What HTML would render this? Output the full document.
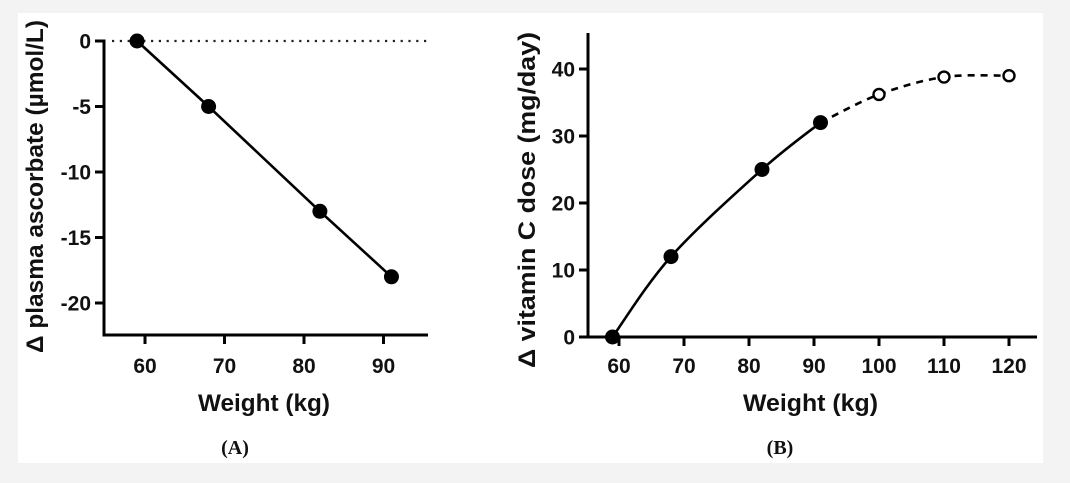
<!DOCTYPE html>
<html><head><meta charset="utf-8"><style>
html,body{margin:0;padding:0;background:#f3f3f3;}
svg{display:block;}
text{font-family:"Liberation Sans",Arial,sans-serif;font-weight:bold;fill:#111;}
.cap{font-family:"Liberation Serif",serif;}
</style></head><body>
<svg id="fig" width="1070" height="483" viewBox="0 0 1070 483">
<rect x="18" y="13" width="1025" height="450" fill="#fff"/>
<g id="ga"></g>
<g id="gb"></g>
</svg>
<script>
// Panel A data
const aWeights = [59, 68, 82, 91];
const aAscorbate = [0, -5, -13, -18];
const aXTicks = [60, 70, 80, 90];
const aYTicks = [0, -5, -10, -15, -20];
// Panel B data
const bWeightsMeasured = [59, 68, 82, 91];
const bDoseMeasured = [0, 12, 25, 32];
const bWeightsProjected = [91, 100, 110, 120];
const bDoseProjected = [32, 36.2, 38.8, 39];
const bXTicks = [60, 70, 80, 90, 100, 110, 120];
const bYTicks = [0, 10, 20, 30, 40];

const NS = "http://www.w3.org/2000/svg";
function mk(parent, tag, attrs, txt) {
  const e = document.createElementNS(NS, tag);
  for (const k in attrs) e.setAttribute(k, attrs[k]);
  if (txt !== undefined) e.textContent = txt;
  parent.appendChild(e);
  return e;
}
function smoothPath(pts) {
  let d = "M" + pts[0][0] + "," + pts[0][1];
  for (let i = 0; i < pts.length - 1; i++) {
    const p0 = pts[Math.max(0, i - 1)], p1 = pts[i], p2 = pts[i + 1], p3 = pts[Math.min(pts.length - 1, i + 2)];
    const c1 = [p1[0] + (p2[0] - p0[0]) / 6, p1[1] + (p2[1] - p0[1]) / 6];
    const c2 = [p2[0] - (p3[0] - p1[0]) / 6, p2[1] - (p3[1] - p1[1]) / 6];
    d += " C" + c1 + " " + c2 + " " + p2;
  }
  return d;
}
const TF = 21, AW = 3;

// ---------- Panel A ----------
const ga = document.getElementById("ga");
const axA = { x0: 104, x1: 428, y0: 41, yB: 335 };
const xA = v => 145 + (v - 60) * 7.95;
const yA = v => 41 - v * 13.1;
mk(ga, "line", { x1: 112, y1: yA(0), x2: axA.x1, y2: yA(0), stroke: "#222", "stroke-width": 2.2, "stroke-dasharray": "2.2,5.6",  });
const yAxA = mk(ga, "line", { x1: axA.x0, y1: yA(0) - 1.5, x2: axA.x0, y2: axA.yB + 1.5, stroke: "#000", "stroke-width": AW });


const xAxA = mk(ga, "line", { x1: axA.x0 - 1.5, y1: axA.yB, x2: axA.x1, y2: axA.yB, stroke: "#000", "stroke-width": AW });


aYTicks.forEach(t => {
  const l = mk(ga, "line", { x1: axA.x0 - 9, y1: yA(t), x2: axA.x0, y2: yA(t), stroke: "#000", "stroke-width": AW });
  
  
  const tx = mk(ga, "text", { x: axA.x0 - 13, y: yA(t) + 7.5, "text-anchor": "end", "font-size": TF }, String(t));
  
  
});
aXTicks.forEach(t => {
  const l = mk(ga, "line", { x1: xA(t), y1: axA.yB, x2: xA(t), y2: axA.yB + 9, stroke: "#000", "stroke-width": AW });
  
  
  const tx = mk(ga, "text", { x: xA(t), y: 373, "text-anchor": "middle", "font-size": TF }, String(t));
  
  
});
const lineA = mk(ga, "polyline", { points: aWeights.map((w, i) => xA(w) + "," + yA(aAscorbate[i])).join(" "), fill: "none", stroke: "#000", "stroke-width": 2.6 });


aWeights.forEach((w, i) => {
  const c = mk(ga, "circle", { cx: xA(w), cy: yA(aAscorbate[i]), r: 7.5, fill: "#000" });
  
  
});
mk(ga, "text", { x: 198, y: 411, "font-size": 24, textLength: 132, lengthAdjust: "spacingAndGlyphs",  }, "Weight (kg)");
mk(ga, "text", { x: 0, y: 0, transform: "translate(43,353) rotate(-90)", "font-size": 24, textLength: 333, lengthAdjust: "spacingAndGlyphs",  }, "Δ plasma ascorbate (µmol/L)");
mk(ga, "text", { x: 235, y: 454, "text-anchor": "middle", "font-size": 20, class: "cap",  }, "(A)");

// ---------- Panel B ----------
const gb = document.getElementById("gb");
const axB = { x0: 588, x1: 1037, yT: 33, yB: 337 };
const xB = v => 619 + (v - 60) * 6.5;
const yB = v => 337 - v * 6.7;
const yAxB = mk(gb, "line", { x1: axB.x0, y1: axB.yT, x2: axB.x0, y2: axB.yB + 1.5, stroke: "#000", "stroke-width": AW });


const xAxB = mk(gb, "line", { x1: axB.x0 - 9, y1: axB.yB, x2: axB.x1, y2: axB.yB, stroke: "#000", "stroke-width": AW });


bYTicks.forEach(t => {
  if (t !== 0) {
    const l = mk(gb, "line", { x1: axB.x0 - 9, y1: yB(t), x2: axB.x0, y2: yB(t), stroke: "#000", "stroke-width": AW });
    
    
  }
  const tx = mk(gb, "text", { x: axB.x0 - 13, y: yB(t) + 7.5, "text-anchor": "end", "font-size": TF }, String(t));
  
  
});
bXTicks.forEach(t => {
  const l = mk(gb, "line", { x1: xB(t), y1: axB.yB, x2: xB(t), y2: axB.yB + 9, stroke: "#000", "stroke-width": AW });
  
  
  const tx = mk(gb, "text", { x: xB(t), y: 373, "text-anchor": "middle", "font-size": TF }, String(t));
  
  
});
const measPts = bWeightsMeasured.map((w, i) => [xB(w), yB(bDoseMeasured[i])]);
const projPts = bWeightsProjected.map((w, i) => [xB(w), yB(bDoseProjected[i])]);
const lineB1 = mk(gb, "path", { d: smoothPath(measPts), fill: "none", stroke: "#000", "stroke-width": 2.6 });


const lineB2 = mk(gb, "path", { d: smoothPath(projPts), fill: "none", stroke: "#000", "stroke-width": 2.6, "stroke-dasharray": "7,6" });


measPts.forEach(p => {
  const c = mk(gb, "circle", { cx: p[0], cy: p[1], r: 7.5, fill: "#000" });
  
  
});
projPts.slice(1).forEach(p => {
  const c = mk(gb, "circle", { cx: p[0], cy: p[1], r: 5.5, fill: "#fff", stroke: "#000", "stroke-width": 2.4 });
  
  
});
mk(gb, "text", { x: 743, y: 411, "font-size": 24, textLength: 135, lengthAdjust: "spacingAndGlyphs",  }, "Weight (kg)");
mk(gb, "text", { x: 0, y: 0, transform: "translate(535,368) rotate(-90)", "font-size": 24, textLength: 336, lengthAdjust: "spacingAndGlyphs",  }, "Δ vitamin C dose (mg/day)");
mk(gb, "text", { x: 780, y: 454, "text-anchor": "middle", "font-size": 20, class: "cap",  }, "(B)");
</script>
</body></html>
